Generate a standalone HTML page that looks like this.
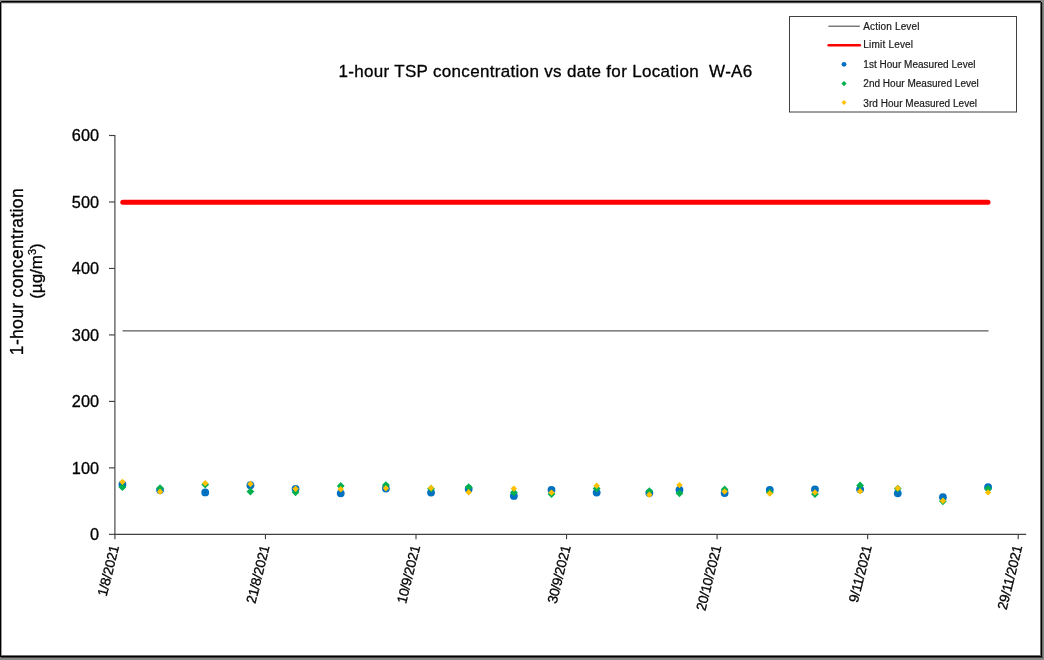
<!DOCTYPE html>
<html><head><meta charset="utf-8"><style>
html,body{margin:0;padding:0;width:1044px;height:660px;overflow:hidden;background:#878787}
#w{position:absolute;left:0;top:1px;width:1042px;height:656px;background:#fff}
.b{position:absolute}
svg{position:absolute;left:0;top:0;will-change:transform}
text{font-family:"Liberation Sans",sans-serif;fill:#000;stroke:#000;stroke-width:0.3px}
.yl{font-size:16.3px}
.xl{font-size:13.8px;letter-spacing:-0.25px}
.lg{font-size:10px;fill:#1a1a1a;stroke:#1a1a1a;stroke-width:0.2px}
.tt{font-size:17px;letter-spacing:0.32px}
.yt{font-size:17px}
</style></head><body>
<div id="w"></div>
<div class="b" style="left:0;top:1px;width:1px;height:1px;background:#a0a0a0"></div>
<div class="b" style="left:1041px;top:1px;width:1px;height:1px;background:#a0a0a0"></div>
<div class="b" style="left:1px;top:1px;width:1040px;height:1px;background:#000"></div>
<div class="b" style="left:1px;top:2px;width:1040px;height:1px;background:#4a4a4a"></div>
<div class="b" style="left:2px;top:3px;width:1038px;height:1px;background:#d4d4d4"></div>
<div class="b" style="left:0;top:2px;width:1px;height:655px;background:#000"></div>
<div class="b" style="left:1px;top:3px;width:1px;height:653px;background:#9a9a9a"></div>
<div class="b" style="left:1041px;top:2px;width:1px;height:655px;background:#000"></div>
<div class="b" style="left:1040px;top:3px;width:1px;height:653px;background:#707070"></div>
<div class="b" style="left:1042px;top:3px;width:1px;height:655px;background:#6a6a6a"></div>
<div class="b" style="left:0;top:656px;width:1042px;height:1px;background:#000"></div>
<div class="b" style="left:1px;top:655px;width:1040px;height:1px;background:#707070"></div>
<div class="b" style="left:1px;top:657px;width:1042px;height:1px;background:#404040"></div>
<svg width="1044" height="660" viewBox="0 0 1044 660">
<line x1="114.9" y1="134.9" x2="114.9" y2="534.9" stroke="#404040" stroke-width="1.15"/>
<line x1="109" y1="534.35" x2="114.9" y2="534.35" stroke="#404040" stroke-width="1.15"/>
<text x="99" y="540.15" text-anchor="end" class="yl">0</text>
<line x1="109" y1="467.88" x2="114.9" y2="467.88" stroke="#404040" stroke-width="1.15"/>
<text x="99" y="473.68" text-anchor="end" class="yl">100</text>
<line x1="109" y1="401.40" x2="114.9" y2="401.40" stroke="#404040" stroke-width="1.15"/>
<text x="99" y="407.20" text-anchor="end" class="yl">200</text>
<line x1="109" y1="334.93" x2="114.9" y2="334.93" stroke="#404040" stroke-width="1.15"/>
<text x="99" y="340.73" text-anchor="end" class="yl">300</text>
<line x1="109" y1="268.45" x2="114.9" y2="268.45" stroke="#404040" stroke-width="1.15"/>
<text x="99" y="274.25" text-anchor="end" class="yl">400</text>
<line x1="109" y1="201.98" x2="114.9" y2="201.98" stroke="#404040" stroke-width="1.15"/>
<text x="99" y="207.78" text-anchor="end" class="yl">500</text>
<line x1="109" y1="135.50" x2="114.9" y2="135.50" stroke="#404040" stroke-width="1.15"/>
<text x="99" y="141.30" text-anchor="end" class="yl">600</text>
<line x1="114.3" y1="534.35" x2="1026.2" y2="534.35" stroke="#404040" stroke-width="1.15"/>
<line x1="114.90" y1="534.35" x2="114.90" y2="539.2" stroke="#404040" stroke-width="1.15"/>
<text transform="translate(119.10 546.9) rotate(-76)" text-anchor="end" class="xl">1/8/2021</text>
<line x1="265.45" y1="534.35" x2="265.45" y2="539.2" stroke="#404040" stroke-width="1.15"/>
<text transform="translate(269.65 546.9) rotate(-76)" text-anchor="end" class="xl">21/8/2021</text>
<line x1="416.00" y1="534.35" x2="416.00" y2="539.2" stroke="#404040" stroke-width="1.15"/>
<text transform="translate(420.20 546.9) rotate(-76)" text-anchor="end" class="xl">10/9/2021</text>
<line x1="566.55" y1="534.35" x2="566.55" y2="539.2" stroke="#404040" stroke-width="1.15"/>
<text transform="translate(570.75 546.9) rotate(-76)" text-anchor="end" class="xl">30/9/2021</text>
<line x1="717.10" y1="534.35" x2="717.10" y2="539.2" stroke="#404040" stroke-width="1.15"/>
<text transform="translate(721.30 546.9) rotate(-76)" text-anchor="end" class="xl">20/10/2021</text>
<line x1="867.65" y1="534.35" x2="867.65" y2="539.2" stroke="#404040" stroke-width="1.15"/>
<text transform="translate(871.85 546.9) rotate(-76)" text-anchor="end" class="xl">9/11/2021</text>
<line x1="1018.20" y1="534.35" x2="1018.20" y2="539.2" stroke="#404040" stroke-width="1.15"/>
<text transform="translate(1022.40 546.9) rotate(-76)" text-anchor="end" class="xl">29/11/2021</text>
<line x1="122.5" y1="330.9" x2="988.5" y2="330.9" stroke="#5a5a5a" stroke-width="1.4"/>
<line x1="122.8" y1="202.2" x2="988" y2="202.2" stroke="#FF0000" stroke-width="5" stroke-linecap="round"/>
<circle cx="122.43" cy="484.4" r="3.9" fill="#0070C0"/>
<circle cx="160.06" cy="490.1" r="3.9" fill="#0070C0"/>
<circle cx="205.23" cy="492.4" r="3.9" fill="#0070C0"/>
<circle cx="250.40" cy="485.2" r="3.9" fill="#0070C0"/>
<circle cx="295.56" cy="488.8" r="3.9" fill="#0070C0"/>
<circle cx="340.73" cy="493.3" r="3.9" fill="#0070C0"/>
<circle cx="385.89" cy="488.5" r="3.9" fill="#0070C0"/>
<circle cx="431.05" cy="492.6" r="3.9" fill="#0070C0"/>
<circle cx="468.69" cy="489" r="3.9" fill="#0070C0"/>
<circle cx="513.86" cy="495.9" r="3.9" fill="#0070C0"/>
<circle cx="551.50" cy="489.8" r="3.9" fill="#0070C0"/>
<circle cx="596.66" cy="492.6" r="3.9" fill="#0070C0"/>
<circle cx="649.35" cy="493" r="3.9" fill="#0070C0"/>
<circle cx="679.46" cy="489.8" r="3.9" fill="#0070C0"/>
<circle cx="724.63" cy="493" r="3.9" fill="#0070C0"/>
<circle cx="769.79" cy="489.8" r="3.9" fill="#0070C0"/>
<circle cx="814.96" cy="489.5" r="3.9" fill="#0070C0"/>
<circle cx="860.12" cy="489.3" r="3.9" fill="#0070C0"/>
<circle cx="897.76" cy="493.3" r="3.9" fill="#0070C0"/>
<circle cx="942.92" cy="497.2" r="3.9" fill="#0070C0"/>
<circle cx="988.09" cy="487.2" r="3.9" fill="#0070C0"/>
<path d="M122.43 483.30L126.33 487.20L122.43 491.10L118.53 487.20Z" fill="#00B050"/>
<path d="M160.06 484.30L163.97 488.20L160.06 492.10L156.16 488.20Z" fill="#00B050"/>
<path d="M205.23 480.70L209.13 484.60L205.23 488.50L201.33 484.60Z" fill="#00B050"/>
<path d="M250.40 487.70L254.30 491.60L250.40 495.50L246.50 491.60Z" fill="#00B050"/>
<path d="M295.56 488.40L299.46 492.30L295.56 496.20L291.66 492.30Z" fill="#00B050"/>
<path d="M340.73 482.10L344.62 486.00L340.73 489.90L336.83 486.00Z" fill="#00B050"/>
<path d="M385.89 481.20L389.79 485.10L385.89 489.00L381.99 485.10Z" fill="#00B050"/>
<path d="M431.05 484.80L434.95 488.70L431.05 492.60L427.15 488.70Z" fill="#00B050"/>
<path d="M468.69 483.30L472.59 487.20L468.69 491.10L464.79 487.20Z" fill="#00B050"/>
<path d="M513.86 488.50L517.76 492.40L513.86 496.30L509.96 492.40Z" fill="#00B050"/>
<path d="M551.50 490.20L555.39 494.10L551.50 498.00L547.60 494.10Z" fill="#00B050"/>
<path d="M596.66 484.60L600.56 488.50L596.66 492.40L592.76 488.50Z" fill="#00B050"/>
<path d="M649.35 487.30L653.25 491.20L649.35 495.10L645.45 491.20Z" fill="#00B050"/>
<path d="M679.46 489.40L683.36 493.30L679.46 497.20L675.56 493.30Z" fill="#00B050"/>
<path d="M724.63 485.50L728.53 489.40L724.63 493.30L720.73 489.40Z" fill="#00B050"/>
<path d="M769.79 488.50L773.69 492.40L769.79 496.30L765.89 492.40Z" fill="#00B050"/>
<path d="M814.96 490.20L818.86 494.10L814.96 498.00L811.06 494.10Z" fill="#00B050"/>
<path d="M860.12 481.50L864.02 485.40L860.12 489.30L856.22 485.40Z" fill="#00B050"/>
<path d="M897.76 484.70L901.66 488.60L897.76 492.50L893.86 488.60Z" fill="#00B050"/>
<path d="M942.92 497.40L946.82 501.30L942.92 505.20L939.02 501.30Z" fill="#00B050"/>
<path d="M988.09 484.90L991.99 488.80L988.09 492.70L984.19 488.80Z" fill="#00B050"/>
<path d="M122.43 478.70L125.63 481.90L122.43 485.10L119.23 481.90Z" fill="#FFC000"/>
<path d="M160.06 488.60L163.26 491.80L160.06 495.00L156.87 491.80Z" fill="#FFC000"/>
<path d="M205.23 480.10L208.43 483.30L205.23 486.50L202.03 483.30Z" fill="#FFC000"/>
<path d="M250.40 480.80L253.59 484.00L250.40 487.20L247.20 484.00Z" fill="#FFC000"/>
<path d="M295.56 485.50L298.76 488.70L295.56 491.90L292.36 488.70Z" fill="#FFC000"/>
<path d="M340.73 486.10L343.93 489.30L340.73 492.50L337.53 489.30Z" fill="#FFC000"/>
<path d="M385.89 485.10L389.09 488.30L385.89 491.50L382.69 488.30Z" fill="#FFC000"/>
<path d="M431.05 484.80L434.25 488.00L431.05 491.20L427.85 488.00Z" fill="#FFC000"/>
<path d="M468.69 489.10L471.89 492.30L468.69 495.50L465.49 492.30Z" fill="#FFC000"/>
<path d="M513.86 485.40L517.06 488.60L513.86 491.80L510.66 488.60Z" fill="#FFC000"/>
<path d="M551.50 489.40L554.70 492.60L551.50 495.80L548.29 492.60Z" fill="#FFC000"/>
<path d="M596.66 482.60L599.86 485.80L596.66 489.00L593.46 485.80Z" fill="#FFC000"/>
<path d="M649.35 491.60L652.55 494.80L649.35 498.00L646.15 494.80Z" fill="#FFC000"/>
<path d="M679.46 481.90L682.66 485.10L679.46 488.30L676.26 485.10Z" fill="#FFC000"/>
<path d="M724.63 488.40L727.83 491.60L724.63 494.80L721.43 491.60Z" fill="#FFC000"/>
<path d="M769.79 490.30L772.99 493.50L769.79 496.70L766.59 493.50Z" fill="#FFC000"/>
<path d="M814.96 489.20L818.16 492.40L814.96 495.60L811.76 492.40Z" fill="#FFC000"/>
<path d="M860.12 488.00L863.32 491.20L860.12 494.40L856.92 491.20Z" fill="#FFC000"/>
<path d="M897.76 485.10L900.96 488.30L897.76 491.50L894.56 488.30Z" fill="#FFC000"/>
<path d="M942.92 497.50L946.12 500.70L942.92 503.90L939.72 500.70Z" fill="#FFC000"/>
<path d="M988.09 489.20L991.29 492.40L988.09 495.60L984.89 492.40Z" fill="#FFC000"/>
<rect x="789.5" y="16.5" width="227" height="95.5" fill="none" stroke="#404040" stroke-width="1"/>
<line x1="828.4" y1="26.2" x2="859.9" y2="26.2" stroke="#4a4a4a" stroke-width="1.1"/>
<line x1="828.7" y1="45.3" x2="859.8" y2="45.3" stroke="#FF0000" stroke-width="2.6" stroke-linecap="round"/>
<circle cx="844" cy="64.3" r="2.4" fill="#0070C0"/>
<path d="M844.00 81.00L846.60 83.60L844.00 86.20L841.40 83.60Z" fill="#00B050"/>
<path d="M844.00 100.10L846.50 102.60L844.00 105.10L841.50 102.60Z" fill="#FFC000"/>
<text x="863.3" y="29.5" class="lg" style="letter-spacing:0.15px">Action Level</text>
<text x="863.3" y="48.4" class="lg" style="letter-spacing:0.2px">Limit Level</text>
<text x="863.3" y="67.6" class="lg" style="letter-spacing:0.02px">1st Hour Measured Level</text>
<text x="863.3" y="87.4" class="lg" style="letter-spacing:0.02px">2nd Hour Measured Level</text>
<text x="863.3" y="106.7" class="lg" style="letter-spacing:0.04px">3rd Hour Measured Level</text>
<text x="338.4" y="76.8" class="tt">1-hour TSP concentration vs date for Location&#160; W-A6</text>
<text transform="translate(22.6 271.6) rotate(-90)" text-anchor="middle" class="yt" style="font-size:17.5px;letter-spacing:0.33px">1-hour concentration</text>
<text transform="translate(41.5 271) rotate(-90)" text-anchor="middle" class="yt">(µg/m<tspan style="font-size:11px" dy="-5.2">3</tspan><tspan dy="5.2">)</tspan></text>
</svg>
</body></html>
